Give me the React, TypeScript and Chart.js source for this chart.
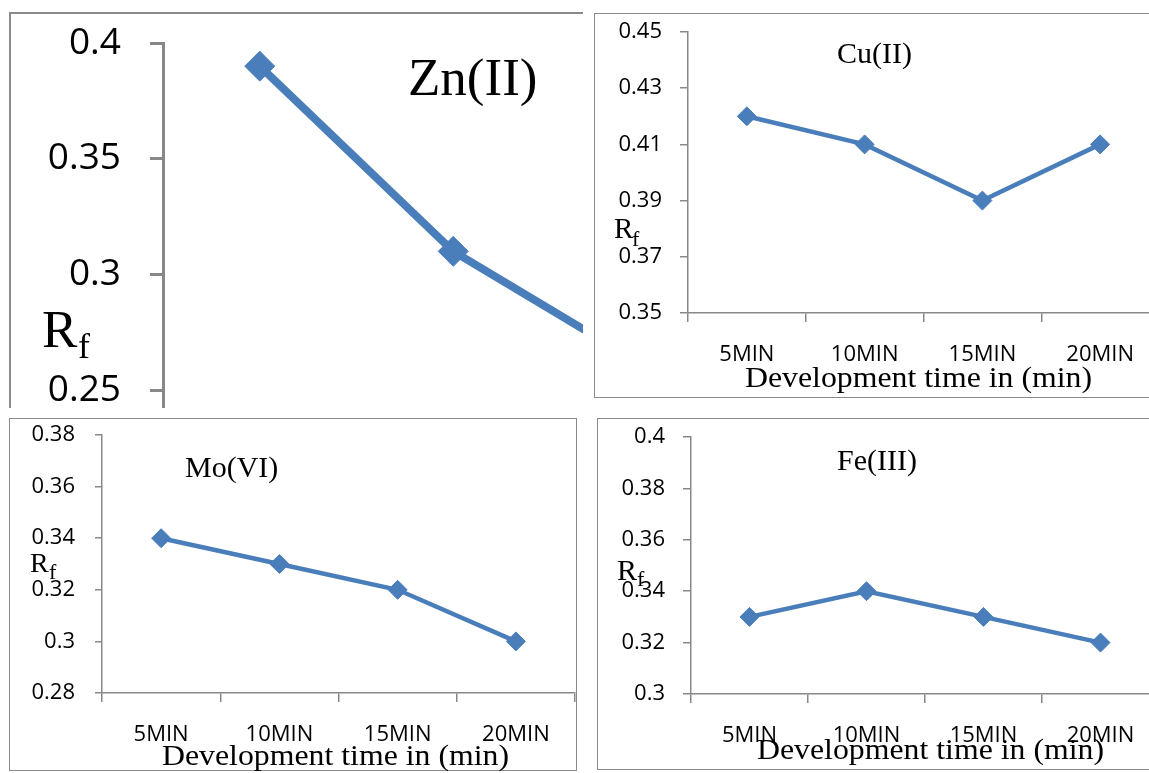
import React, { useEffect, useRef } from "react";
import { Chart, registerables } from "chart.js";

Chart.register(...registerables);

// ---------- data ----------
const categories = ["5MIN", "10MIN", "15MIN", "20MIN"];

const znValues = [0.39, 0.31, 0.26, null];
const cuValues = [0.42, 0.41, 0.39, 0.41];
const moValues = [0.34, 0.33, 0.32, 0.3];
const feValues = [0.33, 0.34, 0.33, 0.32];

const znTicks = [0.2, 0.25, 0.3, 0.35, 0.4];
const znTickLabels = ["0.2", "0.25", "0.3", "0.35", "0.4"];
const cuTicks = [0.35, 0.37, 0.39, 0.41, 0.43, 0.45];
const cuTickLabels = ["0.35", "0.37", "0.39", "0.41", "0.43", "0.45"];
const moTicks = [0.28, 0.3, 0.32, 0.34, 0.36, 0.38];
const moTickLabels = ["0.28", "0.3", "0.32", "0.34", "0.36", "0.38"];
const feTicks = [0.3, 0.32, 0.34, 0.36, 0.38, 0.4];
const feTickLabels = ["0.3", "0.32", "0.34", "0.36", "0.38", "0.4"];

const xAxisTitle = "Development time in (min)";

// ---------- styles ----------
const BLUE = "#4A7EBB";
const AXIS = "#888888";
const FRAME = "#8a8a8a";
const SERIF = "'Liberation Serif', 'Times New Roman', serif";
const SANS = "'Open Sans', sans-serif";

type PanelCfg = {
  left: number; top: number; width: number; height: number;
  values: (number | null)[];
  ticks: number[]; tickLabels: string[];
  yWidth: number; padTop: number; padRight: number; xHeight: number;
  yTickLen: number; yPad: number; xTickLen: number; xPad: number;
  font: number; lineWidth: number; pointRadius: number; axisWidth: number;
};

function LineChart({ cfg }: { cfg: PanelCfg }) {
  const ref = useRef<HTMLCanvasElement | null>(null);
  useEffect(() => {
    if (!ref.current) return;
    const c = cfg;
    const chart = new Chart(ref.current, {
      type: "line",
      data: {
        labels: categories,
        datasets: [
          {
            data: c.values,
            borderColor: BLUE,
            backgroundColor: BLUE,
            borderWidth: c.lineWidth,
            pointStyle: "rectRot",
            pointRadius: c.pointRadius,
            pointBackgroundColor: BLUE,
            pointBorderColor: BLUE,
            pointBorderWidth: 1,
            tension: 0,
            fill: false,
          },
        ],
      },
      options: {
        responsive: false,
        animation: false,
        devicePixelRatio: 1,
        events: [],
        layout: {
          autoPadding: false,
          padding: { left: 0, top: c.padTop, right: c.padRight, bottom: 0 },
        },
        plugins: { legend: { display: false }, tooltip: { enabled: false }, title: { display: false } },
        scales: {
          x: {
            type: "category",
            offset: true,
            grid: {
              offset: true,
              drawOnChartArea: false,
              drawTicks: true,
              tickLength: c.xTickLen,
              color: AXIS,
              lineWidth: c.axisWidth,
            },
            border: { display: true, color: AXIS, width: c.axisWidth },
            ticks: {
              font: { family: SANS, size: c.font },
              color: "#000",
              padding: c.xPad,
              maxRotation: 0,
              minRotation: 0,
              autoSkip: false,
            },
            afterFit: (s: any) => {
              s.height = c.xHeight;
              s.paddingLeft = 0; s.paddingRight = 0; s.paddingTop = 0; s.paddingBottom = 0;
            },
          },
          y: {
            type: "linear",
            min: c.ticks[0],
            max: c.ticks[c.ticks.length - 1],
            afterBuildTicks: (s: any) => { s.ticks = c.ticks.map((v) => ({ value: v })); },
            grid: {
              drawOnChartArea: false,
              drawTicks: true,
              tickLength: c.yTickLen,
              color: AXIS,
              lineWidth: c.axisWidth,
            },
            border: { display: true, color: AXIS, width: c.axisWidth },
            ticks: {
              font: { family: SANS, size: c.font },
              color: "#000",
              padding: c.yPad,
              callback: (_v: any, i: number) => c.tickLabels[i],
            },
            afterFit: (s: any) => {
              s.width = c.yWidth;
              s.paddingLeft = 0; s.paddingRight = 0; s.paddingTop = 0; s.paddingBottom = 0;
            },
          },
        },
      } as any,
    });
    return () => chart.destroy();
  }, []);
  return (
    <canvas
      ref={ref}
      width={cfg.width}
      height={cfg.height}
      style={{ position: "absolute", left: cfg.left, top: cfg.top, width: cfg.width, height: cfg.height, display: "block" }}
    />
  );
}

const smallBase = {
  yTickLen: 8, yPad: 18, xTickLen: 9, xPad: 20, font: 22,
  lineWidth: 4.5, pointRadius: 9.5, axisWidth: 1.5,
};

const cuCfg: PanelCfg = {
  ...smallBase, left: 594, top: 13, width: 600, height: 385,
  values: cuValues, ticks: cuTicks, tickLabels: cuTickLabels,
  yWidth: 94, padTop: 19, padRight: 35, xHeight: 85,
};
const moCfg: PanelCfg = {
  ...smallBase, left: 9, top: 418, width: 568, height: 353,
  values: moValues, ticks: moTicks, tickLabels: moTickLabels,
  yWidth: 93, padTop: 17, padRight: 2, xHeight: 78, yTickLen: 7, yPad: 20,
};
const feCfg: PanelCfg = {
  ...smallBase, left: 597, top: 418, width: 600, height: 352,
  values: feValues, ticks: feTicks, tickLabels: feTickLabels,
  yWidth: 94, padTop: 19, padRight: 38, xHeight: 76,
};
const znCfg: PanelCfg = {
  left: 0, top: 0, width: 1000, height: 600,
  values: znValues, ticks: znTicks, tickLabels: znTickLabels,
  yWidth: 154, padTop: 31, padRight: 72, xHeight: 106,
  yTickLen: 13, yPad: 29, xTickLen: 13, xPad: 20, font: 37,
  lineWidth: 8, pointRadius: 15, axisWidth: 3,
};

function Txt({ x, baseline, size, text, sx = 1 }: { x: number; baseline: number; size: number; text: string; sx?: number }) {
  return (
    <div
      style={{
        position: "absolute",
        left: x,
        top: baseline - 0.8375 * size,
        fontFamily: SERIF,
        fontSize: size,
        lineHeight: 1,
        whiteSpace: "nowrap",
        color: "#000",
        transform: sx !== 1 ? `scaleX(${sx})` : undefined,
        transformOrigin: "left top",
      }}
    >
      {text}
    </div>
  );
}

function Rf({ x, baseline, size, subX, subBaseline, subSize }: any) {
  return (
    <>
      <Txt x={x} baseline={baseline} size={size} text="R" />
      <Txt x={subX} baseline={subBaseline} size={subSize} text="f" />
    </>
  );
}

function Frame({ left, top, width, height, bw, sides }: any) {
  const b = `${bw}px solid ${FRAME}`;
  return (
    <div
      style={{
        position: "absolute", left, top, width, height, boxSizing: "border-box",
        borderTop: sides.includes("t") ? b : "none",
        borderLeft: sides.includes("l") ? b : "none",
        borderRight: sides.includes("r") ? b : "none",
        borderBottom: sides.includes("b") ? b : "none",
        pointerEvents: "none",
      }}
    />
  );
}

export default function App() {
  return (
    <div style={{ position: "fixed", left: 0, top: 0, width: 1149, height: 773, overflow: "hidden", background: "#fff" }}>
      {/* Zn(II) panel (cropped) */}
      <div style={{ position: "absolute", left: 9, top: 12, width: 574, height: 396, overflow: "hidden" }}>
        <LineChart cfg={znCfg} />
      </div>
      <Frame left={9} top={12} width={574} height={396} bw={2.5} sides="tl" />
      <Txt x={408} baseline={95} size={53} text="Zn(II)" />
      <Rf x={42} baseline={347} size={53} subX={78} subBaseline={358} subSize={36} />

      {/* Cu(II) panel */}
      <LineChart cfg={cuCfg} />
      <Frame left={594} top={13} width={600} height={385} bw={1.5} sides="tlrb" />
      <Txt x={837} baseline={63} size={30} text="Cu(II)" />
      <Rf x={614} baseline={238} size={29} subX={632} subBaseline={246} subSize={22} />
      <Txt x={745} baseline={387} size={30} text={xAxisTitle} sx={1.06} />

      {/* Mo(VI) panel */}
      <LineChart cfg={moCfg} />
      <Frame left={9} top={418} width={568} height={353} bw={1.5} sides="tlrb" />
      <Txt x={185} baseline={477} size={30} text="Mo(VI)" />
      <Rf x={30} baseline={572} size={28} subX={49} subBaseline={579} subSize={22} />
      <Txt x={162} baseline={765} size={30} text={xAxisTitle} sx={1.06} />

      {/* Fe(III) panel */}
      <LineChart cfg={feCfg} />
      <Frame left={597} top={418} width={600} height={352} bw={1.5} sides="tlrb" />
      <Txt x={837} baseline={470} size={30} text="Fe(III)" />
      <Rf x={617} baseline={580} size={30} subX={637} subBaseline={586} subSize={22} />
      <Txt x={757} baseline={759} size={30} text={xAxisTitle} sx={1.06} />
    </div>
  );
}
